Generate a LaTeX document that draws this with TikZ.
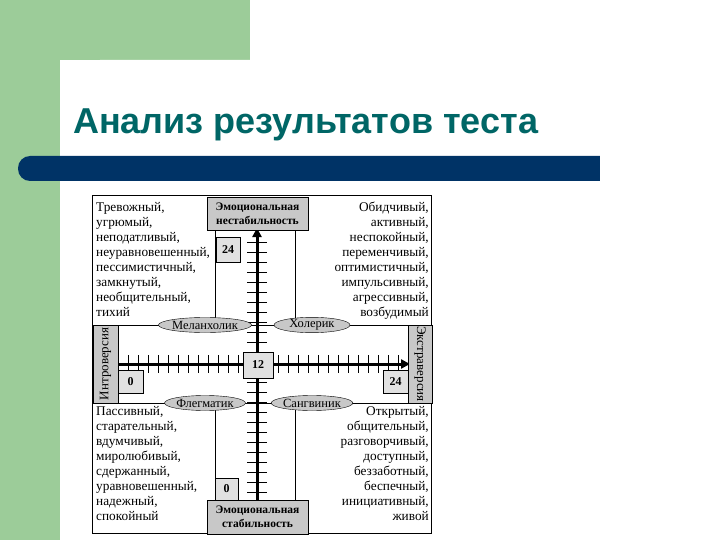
\documentclass[tikz,border=0pt]{standalone}
\usepackage{fontspec}
\setmainfont{Liberation Serif}
\newfontfamily\titlefont{Liberation Sans}
\usetikzlibrary{arrows.meta,shapes.geometric}
\definecolor{bggreen}{RGB}{156,204,153}
\definecolor{navy}{RGB}{0,51,102}
\definecolor{teal}{RGB}{0,102,102}
\definecolor{boxgray}{RGB}{200,200,200}
\definecolor{lightbox}{RGB}{225,225,225}
\begin{document}
\begin{tikzpicture}[x=1pt,y=-1pt,
  lab/.style={draw,fill=boxgray,font=\bfseries\fontsize{11.5}{14}\selectfont,align=center,inner sep=0pt},
  num/.style={draw,fill=lightbox,font=\bfseries\fontsize{12}{13}\selectfont,inner sep=0pt},
  typ/.style={draw,fill=boxgray,ellipse,minimum width=76pt,minimum height=15pt,inner sep=0pt,font=\fontsize{12.5}{13}\selectfont},
  words/.style={font=\fontsize{13.3}{15}\selectfont,inner sep=0pt}]
\useasboundingbox (0,0) rectangle (720,540);
\fill[white] (0,0) rectangle (720,540);
\fill[bggreen] (0,0) rectangle (250,60);
\fill[bggreen] (0,0) rectangle (60,540);
\fill[white] (60,540) -- (60,100) arc[start angle=180,end angle=270,radius=40] -- (250,60) -- (250,100) -- (720,100) -- (720,540) -- cycle;
\fill[white] (100,60) rectangle (250,100);
\fill[navy,rounded corners=12pt] (18,156) rectangle (630,181);
\fill[white] (600,150) rectangle (720,190);
\node[anchor=base west,inner sep=0pt,text=teal,font=\titlefont\bfseries\fontsize{36}{40}\selectfont] (title) at (73,134) {Анализ результатов теста};
% frame
\draw[line width=0.8pt] (92,195) rectangle (431,533);
\draw (92,325) -- (431,325);
\draw (92,403) -- (431,403);
\draw (215,230) -- (215,325);
\draw (295,230) -- (295,325);
\draw (215,403) -- (215,500);
\draw (295,403) -- (295,500);
% ticks
\foreach \x in {128,138,...,398} \draw (\x,355) -- (\x,373);
\foreach \y in {242,252,...,522} \draw (247,\y) -- (267,\y);
% axes
\coordinate (hs) at (118,364);
\coordinate (he) at (410,364);
\coordinate (vs) at (257,533);
\coordinate (ve) at (257,228);
\draw[line width=3pt,-{Triangle[length=9pt,width=9pt]}] (hs) -- (he);
\draw[line width=3pt,-{Triangle[length=9pt,width=9pt]}] (vs) -- (ve);
% label boxes
\node[lab,minimum width=101pt,minimum height=33pt] (top) at (257.5,213.5) {Эмоциональная\\нестабильность};
\node[lab,minimum width=101pt,minimum height=34pt] (bot) at (257.5,517) {Эмоциональная\\стабильность};
\node[lab,minimum width=25pt,minimum height=78pt] (left) at (105.5,364) {};
\node[font=\fontsize{13}{14}\selectfont,rotate=90] (lefttxt) at (left) {Интроверсия};
\node[lab,minimum width=24pt,minimum height=78pt] (right) at (420,364) {};
\node[font=\fontsize{13}{14}\selectfont,rotate=-90] (righttxt) at (right) {Экстраверсия};
% numbers
\node[num,minimum width=30pt,minimum height=26pt] (c12) at (258,365) {12};
\node[num,minimum width=24pt,minimum height=25pt] (t24) at (228,249.5) {24};
\node[num,minimum width=25pt,minimum height=23pt] (l0) at (130.5,381.5) {0};
\node[num,minimum width=25pt,minimum height=23pt] (r24) at (395.5,381.5) {24};
\node[num,minimum width=23pt,minimum height=22pt] (b0) at (226.5,489) {0};
% types
\node[typ] (mel) at (205,325) {Меланхолик};
\node[typ] (hol) at (312,325) {Холерик};
\node[typ] (fle) at (205,403) {Флегматик};
\node[typ] (san) at (312,403) {Сангвиник};
% words
\node[words,anchor=north west,align=left] (tl) at (96,202) {Тревожный,\\угрюмый,\\неподатливый,\\неуравновешенный,\\пессимистичный,\\замкнутый,\\необщительный,\\тихий};
\node[words,anchor=north east,align=right] (tr) at (429,202) {Обидчивый,\\активный,\\неспокойный,\\переменчивый,\\оптимистичный,\\импульсивный,\\агрессивный,\\возбудимый};
\node[words,anchor=north west,align=left] (bl) at (96,406) {Пассивный,\\старательный,\\вдумчивый,\\миролюбивый,\\сдержанный,\\уравновешенный,\\надежный,\\спокойный};
\node[words,anchor=north east,align=right] (br) at (429,406) {Открытый,\\общительный,\\разговорчивый,\\доступный,\\беззаботный,\\беспечный,\\инициативный,\\живой};
\end{tikzpicture}
\end{document}
